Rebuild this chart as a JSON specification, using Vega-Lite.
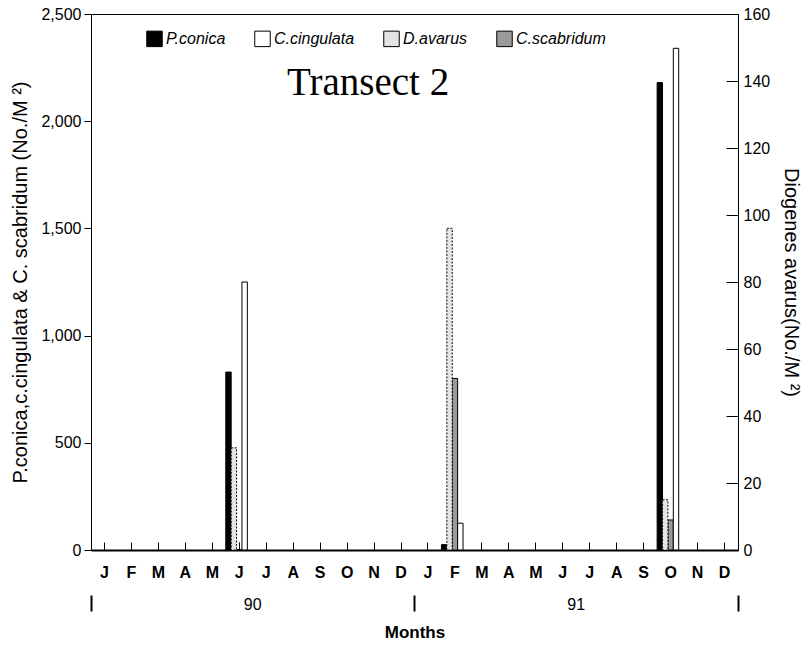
{
  "$schema": "https://vega.github.io/schema/vega-lite/v6.json",
  "width": 647,
  "height": 536,
  "autosize": {"type": "none"},
  "padding": {"left": 91, "top": 14, "right": 67, "bottom": 98},
  "background": "white",
  "title": {"text": "Transect 2", "font": "Liberation Serif", "fontSize": 39, "fontWeight": "normal", "color": "black", "anchor": "start", "frame": "group", "dx": 196, "dy": 128, "offset": 0, "baseline": "alphabetic"},
  "datasets": {
    "counts": [
      {"month": "Jun 90", "series": "P.conica", "value": 830},
      {"month": "Jun 90", "series": "D.avarus", "value": 30.5},
      {"month": "Jun 90", "series": "C.scabridum", "value": 0},
      {"month": "Jun 90", "series": "C.cingulata", "value": 1250},
      {"month": "Feb 91", "series": "P.conica", "value": 25},
      {"month": "Feb 91", "series": "D.avarus", "value": 96},
      {"month": "Feb 91", "series": "C.scabridum", "value": 800},
      {"month": "Feb 91", "series": "C.cingulata", "value": 125},
      {"month": "Oct 91", "series": "P.conica", "value": 2180},
      {"month": "Oct 91", "series": "D.avarus", "value": 15},
      {"month": "Oct 91", "series": "C.scabridum", "value": 140},
      {"month": "Oct 91", "series": "C.cingulata", "value": 2340}
    ],
    "years": [{"year": "90"}, {"year": "91"}]
  },
  "config": {
    "view": {"stroke": "black", "strokeWidth": 1},
    "axis": {"grid": false, "domainColor": "black", "tickColor": "black", "labelColor": "black", "titleColor": "black", "labelFont": "Liberation Sans", "titleFont": "Liberation Sans"}
  },
  "layer": [
    {
      "layer": [
        {
          "data": {"name": "counts"},
          "transform": [{"filter": "datum.series !== 'D.avarus'"}],
          "mark": {"type": "bar", "stroke": "black", "strokeWidth": 1},
          "encoding": {
            "x": {"field": "month", "type": "nominal", "sort": null,
              "scale": {"type": "band", "paddingInner": 0, "paddingOuter": 0, "domain": ["Jan 90","Feb 90","Mar 90","Apr 90","May 90","Jun 90","Jul 90","Aug 90","Sep 90","Oct 90","Nov 90","Dec 90","Jan 91","Feb 91","Mar 91","Apr 91","May 91","Jun 91","Jul 91","Aug 91","Sep 91","Oct 91","Nov 91","Dec 91"]},
              "axis": {"orient": "bottom", "title": null, "labelAngle": 0, "labelExpr": "substring(datum.label, 0, 1)", "labelFontSize": 16, "labelFontWeight": "bold", "labelPadding": 22, "tickSize": -8, "tickWidth": 1, "bandPosition": 0.5, "domainWidth": 2}},
            "xOffset": {"field": "series", "type": "nominal", "scale": {"domain": ["P.conica", "D.avarus", "C.scabridum", "C.cingulata", "_"], "paddingInner": 0, "paddingOuter": 0}},
            "y": {"field": "value", "type": "quantitative", "scale": {"domain": [0, 2500], "nice": false},
              "axis": {"orient": "left", "values": [0, 500, 1000, 1500, 2000, 2500], "format": ",.0f", "title": "P.conica,c.cingulata & C. scabridum (No./M ²)", "titleFontSize": 20, "titleFontWeight": "normal", "titlePadding": 10, "labelFontSize": 16, "tickSize": 7, "labelPadding": 3}},
            "fill": {"field": "series", "type": "nominal",
              "scale": {"domain": ["P.conica", "C.cingulata", "D.avarus", "C.scabridum"], "range": ["black", "white", "#e4e4e4", "#9a9a9a"]},
              "legend": {"orient": "none", "legendX": 55, "legendY": 16, "direction": "horizontal", "title": null, "symbolType": "square", "symbolSize": 240, "symbolStrokeColor": "black", "symbolStrokeWidth": 1, "labelFont": "Liberation Sans", "labelFontStyle": "italic", "labelFontSize": 16, "labelColor": "black", "columnPadding": 26, "labelOffset": 3}}
          }
        },
        {
          "data": {"name": "counts"},
          "transform": [{"filter": "datum.series === 'D.avarus'"}],
          "mark": {"type": "bar", "stroke": "black", "strokeWidth": 1, "strokeDash": [2, 1.5]},
          "encoding": {
            "x": {"field": "month", "type": "nominal", "sort": null},
            "xOffset": {"field": "series", "type": "nominal"},
            "y": {"field": "value", "type": "quantitative", "scale": {"domain": [0, 160], "nice": false},
              "axis": {"orient": "right", "values": [0, 20, 40, 60, 80, 100, 120, 140, 160], "title": "Diogenes avarus(No./M ²)", "titleFontSize": 20, "titleFontWeight": "normal", "titlePadding": 11, "labelFontSize": 16, "tickSize": -12, "labelPadding": 17}},
            "fill": {"field": "series", "type": "nominal"}
          }
        }
      ],
      "resolve": {"scale": {"y": "independent"}}
    },
    {
      "data": {"name": "years"},
      "mark": {"type": "rule", "opacity": 0},
      "encoding": {
        "x": {"field": "year", "type": "nominal",
          "scale": {"type": "band", "paddingInner": 0, "paddingOuter": 0},
          "axis": {"orient": "bottom", "offset": 45, "domain": false, "bandPosition": 1, "tickExtra": true, "tickSize": 16, "tickWidth": 2, "labelPadding": -15, "labelAngle": 0, "labelFontSize": 16, "title": "Months", "titleFontSize": 17, "titleFontWeight": "bold", "titlePadding": 12}}
      }
    }
  ],
  "resolve": {"scale": {"x": "independent"}, "axis": {"x": "independent"}}
}
